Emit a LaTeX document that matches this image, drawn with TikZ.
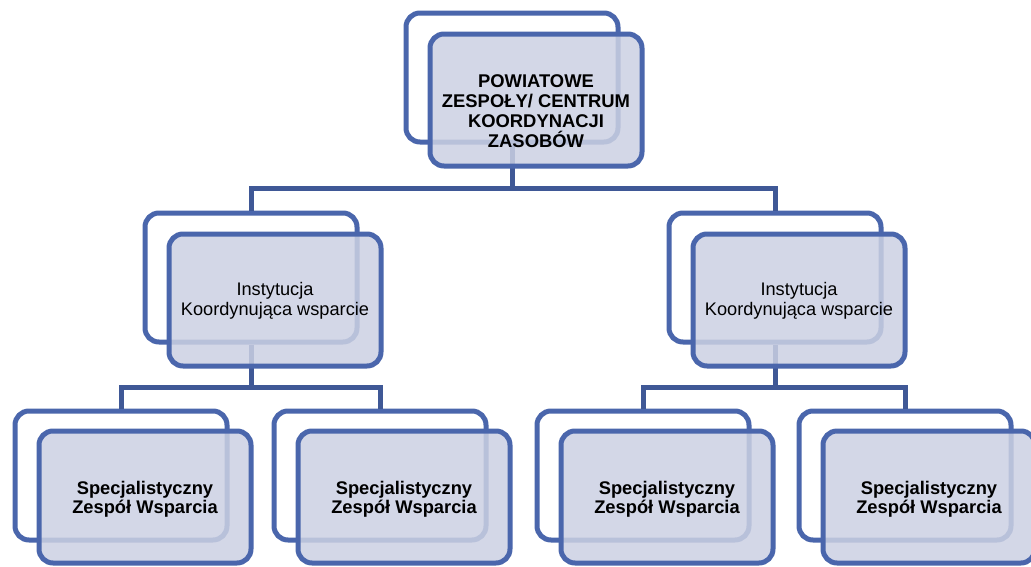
\documentclass[tikz,border=0pt]{standalone}
\usepackage{fontspec}
\setmainfont{Liberation Sans}
\definecolor{bordc}{HTML}{4A66AC}
\definecolor{connc}{HTML}{3F5896}
\definecolor{fillc}{HTML}{CCD1E3}
\begin{document}
\begin{tikzpicture}[x=1pt,y=-1pt,
  backbox/.style={draw=bordc, fill=white, line width=5pt, rounded corners=14pt,
    minimum width=212pt, minimum height=129pt, inner sep=0pt},
  frontbox/.style={draw=bordc, fill=fillc, fill opacity=0.85, draw opacity=1,
    line width=5pt, rounded corners=14pt,
    minimum width=212pt, minimum height=132pt, inner sep=0pt},
  conn/.style={draw=connc, line width=5pt},
  boldtxt/.style={align=center, inner sep=0pt,
    font=\fontsize{18.3}{19}\selectfont\bfseries},
  toptxt/.style={align=center, inner sep=0pt,
    font=\fontsize{18.4}{20}\selectfont\bfseries},
  regtxt/.style={align=center, inner sep=0pt,
    font=\fontsize{18.2}{19.5}\selectfont}
]
\useasboundingbox (0,0) rectangle (1031,566);
\fill[white] (0,0) rectangle (1031,566);

% junction coordinates
\coordinate (j0) at (512,188);
\coordinate (jl) at (251,387);
\coordinate (jr) at (775,387);

% back boxes
\node[backbox] (Tb) at (512,77.5) {};
\node[backbox] (Lb) at (251,277.5) {};
\node[backbox] (Rb) at (775,277.5) {};
\node[backbox] (B1b) at (121,475.5) {};
\node[backbox] (B2b) at (380,475.5) {};
\node[backbox] (B3b) at (643,475.5) {};
\node[backbox] (B4b) at (905,475.5) {};

% connectors
\draw[conn] (Tb.south) -- (j0);
\draw[conn] (j0) -| (Lb.north);
\draw[conn] (j0) -| (Rb.north);
\draw[conn] (Lb.south) -- (jl);
\draw[conn] (jl) -| (B1b.north);
\draw[conn] (jl) -| (B2b.north);
\draw[conn] (Rb.south) -- (jr);
\draw[conn] (jr) -| (B3b.north);
\draw[conn] (jr) -| (B4b.north);

% front boxes
\node[frontbox] (Tf) at (536,100) {};
\node[frontbox] (Lf) at (275,300) {};
\node[frontbox] (Rf) at (799,300) {};
\node[frontbox] (B1f) at (145,497) {};
\node[frontbox] (B2f) at (404,497) {};
\node[frontbox] (B3f) at (667,497) {};
\node[frontbox] (B4f) at (929,497) {};

% texts
\node[toptxt] (Tt) at (536,111) {POWIATOWE\\ZESPOŁY/ CENTRUM\\KOORDYNACJI\\ZASOBÓW};
\node[regtxt] (Lt) at (275,301) {Instytucja\\Koordynująca wsparcie};
\node[regtxt] (Rt) at (799,301) {Instytucja\\Koordynująca wsparcie};
\node[boldtxt] (B1t) at (145,499) {Specjalistyczny\\Zespół Wsparcia};
\node[boldtxt] (B2t) at (404,499) {Specjalistyczny\\Zespół Wsparcia};
\node[boldtxt] (B3t) at (667,499) {Specjalistyczny\\Zespół Wsparcia};
\node[boldtxt] (B4t) at (929,499) {Specjalistyczny\\Zespół Wsparcia};
\end{tikzpicture}
\end{document}
